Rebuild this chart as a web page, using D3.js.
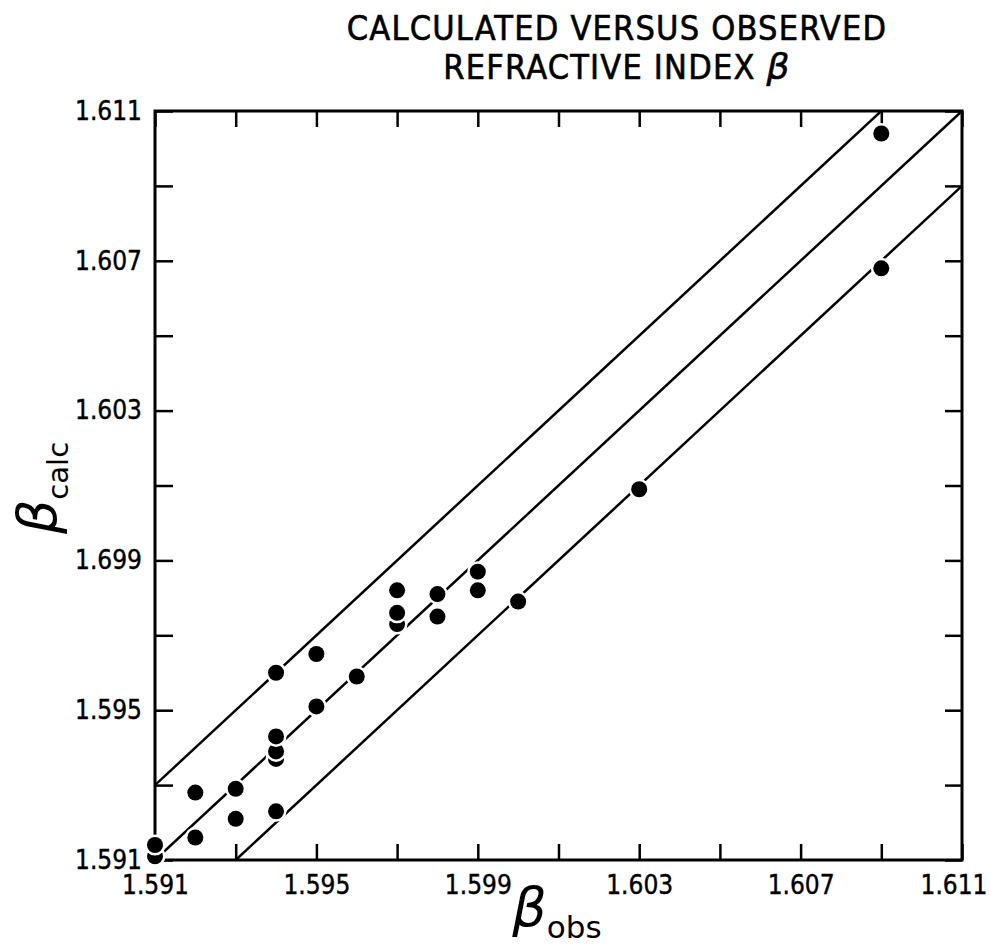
<!DOCTYPE html>
<html>
<head>
<meta charset="utf-8">
<script src="https://cdn.jsdelivr.net/npm/d3@7"></script>
<style>
  html, body { margin: 0; padding: 0; background: #fff; }
  svg { display: block; }
</style>
</head>
<body>
<script>
// ---- data ----
const obsValues  = [1.591, 1.591, 1.592, 1.592, 1.593, 1.593, 1.594, 1.594, 1.594, 1.594, 1.594, 1.595, 1.595, 1.596, 1.597, 1.597, 1.597, 1.598, 1.598, 1.599, 1.599, 1.600, 1.603, 1.609, 1.609];
const calcValues = [1.5911, 1.5914, 1.5928, 1.5916, 1.5929, 1.5921, 1.5937, 1.5939, 1.5943, 1.5923, 1.5960, 1.5965, 1.5951, 1.5959, 1.5973, 1.5976, 1.5982, 1.5981, 1.5975, 1.5987, 1.5982, 1.5979, 1.6009, 1.6068, 1.6104];
const xTickValues = [1.591, 1.595, 1.599, 1.603, 1.607, 1.611];
const xTickLabels = ["1.591", "1.595", "1.599", "1.603", "1.607", "1.611"];
const yTickValues = [1.591, 1.595, 1.599, 1.603, 1.607, 1.611];
const yTickLabels = ["1.591", "1.595", "1.699", "1.603", "1.607", "1.611"];
const minorTickValues = [1.591, 1.593, 1.595, 1.597, 1.599, 1.601, 1.603, 1.605, 1.607, 1.609, 1.611];
const lineOffsets = [0.002, 0, -0.002];
const titleLines = ["CALCULATED VERSUS OBSERVED", "REFRACTIVE INDEX "];

(function () {
// ---- layout ----
const W = 990, H = 945;
const pLeft = 155, pRight = 962, pTop = 111, pBottom = 860;

const svg = d3.select("body").append("svg").attr("width", W).attr("height", H);
svg.append("rect").attr("width", W).attr("height", H).attr("fill", "#fff");

const x = d3.scaleLinear().domain([1.591, 1.611]).range([pLeft, pRight]);
const y = d3.scaleLinear().domain([1.591, 1.611]).range([pBottom, pTop]);

const font = "'DejaVu Sans', sans-serif";
const condFont = "'DejaVu Sans Condensed', 'DejaVu Sans', sans-serif";

// title
const title = svg.append("g").attr("font-family", condFont).attr("fill", "#000")
  .attr("stroke", "#000").attr("stroke-width", 0.6)
  .attr("text-anchor", "middle").attr("letter-spacing", 1.2);
title.append("text").attr("x", 617).attr("y", 40).attr("font-size", 34).text(titleLines[0]);
const t2 = title.append("text").attr("x", 617).attr("y", 79).attr("font-size", 34);
t2.append("tspan").text(titleLines[1]);
t2.append("tspan").attr("font-family", font).attr("font-style", "italic").attr("font-size", 36).text("β");

// inward ticks on all four sides
function styleTicks(g) {
  g.select(".domain").remove();
  g.selectAll(".tick line").attr("stroke", "#000").attr("stroke-width", 2.5);
}
svg.append("g").attr("transform", `translate(0,${pBottom})`)
  .call(d3.axisBottom(x).tickValues(minorTickValues).tickSize(-16).tickFormat(""))
  .call(styleTicks);
svg.append("g").attr("transform", `translate(0,${pTop})`)
  .call(d3.axisTop(x).tickValues(minorTickValues).tickSize(-16).tickFormat(""))
  .call(styleTicks);
svg.append("g").attr("transform", `translate(${pLeft},0)`)
  .call(d3.axisLeft(y).tickValues(minorTickValues).tickSize(-18).tickFormat(""))
  .call(styleTicks);
svg.append("g").attr("transform", `translate(${pRight},0)`)
  .call(d3.axisRight(y).tickValues(minorTickValues).tickSize(-17).tickFormat(""))
  .call(styleTicks);

// tick labels
function styleLabels(g) {
  g.select(".domain").remove();
  g.selectAll(".tick line").remove();
  g.selectAll(".tick text").attr("font-family", condFont).attr("font-size", 26)
    .attr("fill", "#000").attr("stroke", "#000").attr("stroke-width", 0.4);
}
const xLab = svg.append("g").attr("transform", `translate(0,${pBottom})`)
  .call(d3.axisBottom(x).tickValues(xTickValues).tickSize(0).tickPadding(16)
    .tickFormat((d, i) => xTickLabels[i]))
  .call(styleLabels);
xLab.selectAll(".tick text").filter((d, i) => i === xTickValues.length - 1)
  .attr("text-anchor", "end").attr("x", 25);
svg.append("g").attr("transform", `translate(${pLeft},0)`)
  .call(d3.axisLeft(y).tickValues(yTickValues).tickSize(0).tickPadding(13)
    .tickFormat((d, i) => yTickLabels[i]))
  .call(styleLabels);

// frame
svg.append("rect").attr("x", pLeft).attr("y", pTop).attr("width", pRight - pLeft).attr("height", pBottom - pTop)
  .attr("fill", "none").attr("stroke", "#000").attr("stroke-width", 3);

// reference lines y = x + offset, clipped to the plot box
svg.append("clipPath").attr("id", "plotclip").append("rect")
  .attr("x", pLeft).attr("y", pTop).attr("width", pRight - pLeft).attr("height", pBottom - pTop);
const lineGen = d3.line().x(d => x(d[0])).y(d => y(d[1]));
svg.append("g").attr("clip-path", "url(#plotclip)")
  .selectAll("path").data(lineOffsets).join("path")
  .attr("d", o => lineGen([[1.591 - 0.003, 1.591 - 0.003 + o], [1.611 + 0.003, 1.611 + 0.003 + o]]))
  .attr("fill", "none").attr("stroke", "#000").attr("stroke-width", 2.5);

// points with white halo (gives the broken-line look)
const pts = obsValues.map((v, i) => ({ o: v, c: calcValues[i] }));
const pg = svg.append("g").selectAll("g").data(pts).join("g")
  .attr("transform", d => `translate(${x(d.o)},${y(d.c)})`);
pg.append("circle").attr("r", 10.5).attr("fill", "#fff");
pg.append("circle").attr("r", 8).attr("fill", "#000");

// axis titles
const yl = svg.append("text").attr("transform", "translate(56,488) rotate(-90)")
  .attr("text-anchor", "middle").attr("font-family", font).attr("fill", "#000");
yl.append("tspan").attr("font-style", "italic").attr("font-size", 54).text("β");
yl.append("tspan").attr("font-size", 29).attr("dy", 12).text("calc");

const xl = svg.append("text").attr("x", 557).attr("y", 926)
  .attr("text-anchor", "middle").attr("font-family", font).attr("fill", "#000");
xl.append("tspan").attr("font-style", "italic").attr("font-size", 54).text("β");
xl.append("tspan").attr("font-size", 31).attr("dy", 12).text("obs");
})();
</script>
</body>
</html>
